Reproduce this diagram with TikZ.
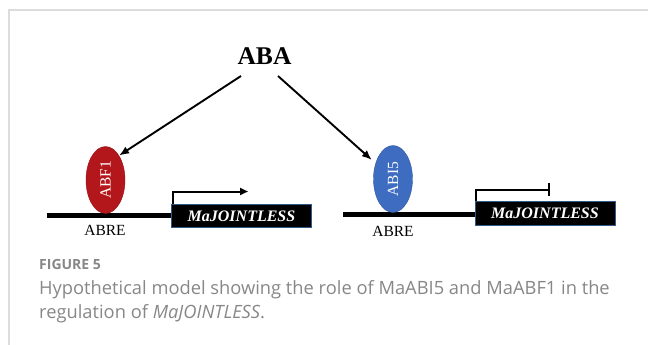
\documentclass[tikz,border=0pt]{standalone}
\usepackage{fontspec}
\usepackage{graphicx}
\setmainfont{Liberation Serif}
\newfontfamily\capfont{Open Sans}
\usetikzlibrary{arrows.meta,positioning,shapes.geometric,calc}
\definecolor{abfred}{HTML}{B3171C}
\definecolor{abiblue}{HTML}{3D6CC0}
\definecolor{geneedge}{HTML}{2E5C8A}
\definecolor{framegray}{HTML}{DCDCDC}
\definecolor{capgray}{HTML}{878787}
\tikzset{
  factor/.style={draw, ellipse, inner sep=0pt, minimum width=39pt, minimum height=67pt, font=\fontsize{15.5}{15.5}\selectfont, text=white},
  gene/.style={draw=geneedge, line width=0.8pt, fill=black, text=white, minimum width=140pt, minimum height=23pt, inner sep=0pt, font=\fontsize{16}{16}\selectfont\bfseries\itshape},
  dna/.style={line width=5pt},
  site/.style={font=\fontsize{15.5}{15.5}\selectfont, anchor=base, inner sep=0pt},
  signal/.style={-{Latex[length=10pt,width=8pt]}, line width=1.9pt},
  promoter/.style={line width=2pt},
  caption/.style={anchor=base west, inner sep=0pt, text=capgray},
}
\begin{document}
\begin{tikzpicture}[x=1pt,y=-1pt]
  \useasboundingbox (0,0) rectangle (648,345);
  \draw[framegray, line width=1.5pt] (9,345) -- (9,10) -- (648,10);
  \node[font=\fontsize{25.5}{25.5}\selectfont\bfseries, anchor=base, inner sep=0pt] (aba) at (264.5,64) {ABA};
  \node[gene] (geneL) at (241.5,216) {MaJOINTLESS};
  \node[gene, minimum height=24pt] (geneR) at (545,213) {MaJOINTLESS};
  \coordinate (dnaL) at (47,215.5);
  \coordinate (dnaR) at (343,214.5);
  \draw[dna] (dnaL) -- (dnaL -| geneL.west);
  \draw[dna] (dnaR) -- (dnaR -| geneR.west);
  \node[factor, fill=abfred, draw=abfred!80!black] (abf1) at (105.5,180) {\rotatebox{90}{ABF1}};
  \node[factor, fill=abiblue, draw=abiblue!80!black] (abi5) at (393,179) {\rotatebox{90}{ABI5}};
  \node[site] (abreL) at (105,235) {ABRE};
  \node[site] (abreR) at (393,236) {ABRE};
  \coordinate (tssL) at (248,191.5);
  \coordinate (tssR) at (550,189.5);
  \draw[promoter, -{Triangle[length=8pt,width=7pt]}] ([xshift=1.5pt]geneL.north west) |- (tssL);
  \draw[promoter, -{Bar[width=13pt]}] ([xshift=1.5pt]geneR.north west) |- (tssR);
  \draw[signal] ([shift={(-23.5,12)}]aba.base) -- (abf1.61);
  \draw[signal, shorten >=5pt] ([shift={(13.5,12)}]aba.base) -- (abi5.138);
  \node[caption, font=\capfont\bfseries\fontsize{14}{14}\selectfont] (fig) at (39,269) {FIGURE 5};
  \node[caption, font=\capfont\fontsize{18.3}{18.3}\selectfont] (capA) at (39,294) {Hypothetical model showing the role of MaABI5 and MaABF1 in the};
  \node[caption, font=\capfont\fontsize{18.3}{18.3}\selectfont] (capB) at (39,318) {regulation of \textit{MaJOINTLESS}.};
\end{tikzpicture}
\end{document}
